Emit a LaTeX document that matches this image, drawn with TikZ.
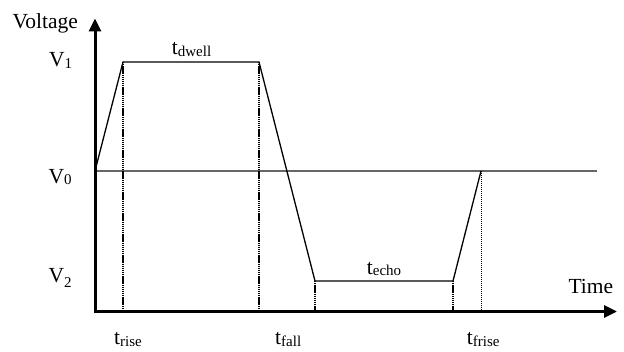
\documentclass[tikz,border=0pt]{standalone}
\usepackage{fontspec}
\setmainfont{Liberation Serif}
\usetikzlibrary{arrows.meta}
\newcommand{\lbl}[3][3pt]{#2\raisebox{-#1}{\fontsize{15}{15}\selectfont #3}}
\begin{document}
\begin{tikzpicture}[x=1pt,y=-1pt,
  axis/.style={line width=3pt,line cap=rect,-{Triangle[length=13pt,width=12pt]}},
  wave/.style={line width=1.3pt,line join=miter},
  guide/.style={line width=1.3pt,dash pattern=on 1.4pt off 0.7pt},
  thinguide/.style={line width=1pt,dash pattern=on 1.2pt off 0.8pt},
  baseline0/.style={black!60,line width=1.3pt},
  txt/.style={anchor=base west,inner sep=0pt,font=\fontsize{21.5}{21.5}\selectfont}]
\useasboundingbox (0,0) rectangle (624,352);
% coordinates
\coordinate (o) at (95,311.5);
\coordinate (ytip) at (95,18.5);
\coordinate (xtip) at (617,311.5);
\coordinate (a) at (95,171);
\coordinate (b) at (123,62);
\coordinate (c) at (259,62);
\coordinate (d) at (315,281);
\coordinate (e) at (453,281);
\coordinate (f) at (481,171);
\coordinate (g) at (597,171);
% V0 reference line
\draw[baseline0] (a) -- (g);
% guides
\draw[guide] (b) -- (b |- o);
\draw[guide] (c) -- (c |- o);
\draw[guide] (d) -- (d |- o);
\draw[guide] (e) -- (e |- o);
\draw[thinguide] (f) -- (f |- o);
% waveform
\draw[wave] (a) -- (b) -- (c) -- (d) -- (e) -- (f);
% axes
\draw[axis] (o) -- (ytip);
\draw[axis] (o) -- (xtip);
% labels
\node[txt] (volt) at (12.5,28.3) {Voltage};
\node[txt] (v1) at (49,66.7) {\lbl[1.5pt]{V}{1}};
\node[txt] (v0) at (48.3,183.3) {\lbl[1pt]{V}{0}};
\node[txt] (v2) at (48.3,282.3) {\lbl[5pt]{V}{2}};
\node[txt] (tdwell) at (171.7,55) {\lbl[2pt]{t}{dwell}};
\node[txt] (techo) at (366.7,275) {\lbl[1pt]{t}{echo}};
\node[txt] (time) at (568.3,293.3) {Time};
\node[txt] (trise) at (114,344.5) {\lbl[2.5pt]{t}{rise}};
\node[txt] (tfall) at (275,344.5) {\lbl[2.5pt]{t}{fall}};
\node[txt] (tfrise) at (466.7,344.5) {\lbl[2.5pt]{t}{frise}};
\end{tikzpicture}
\end{document}
